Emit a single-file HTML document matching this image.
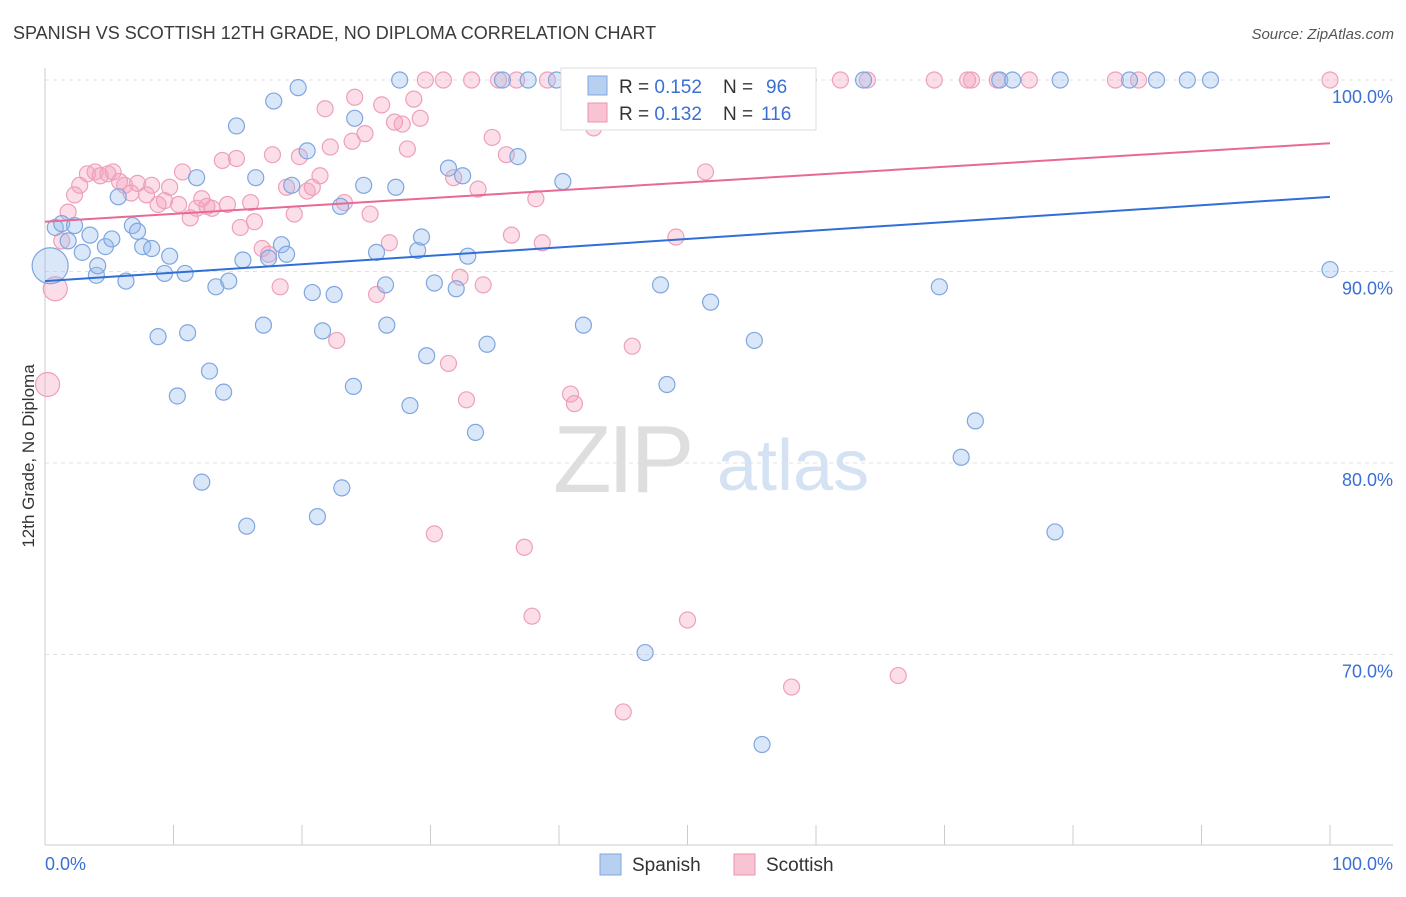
<!DOCTYPE html>
<html><head><meta charset="utf-8"><style>
body{margin:0;background:#fff;font-family:"Liberation Sans",sans-serif;}
svg text{font-family:"Liberation Sans",sans-serif;}
</style></head><body>
<svg id="chart" width="1406" height="892" xmlns="http://www.w3.org/2000/svg">
<text x="13" y="39" font-size="18" fill="#3a3a3a">SPANISH VS SCOTTISH 12TH GRADE, NO DIPLOMA CORRELATION CHART</text>
<text x="1394" y="39" font-size="15" fill="#555" text-anchor="end" font-style="italic">Source: ZipAtlas.com</text>
<g id="grid"></g>
<g>
<text x="553" y="492" font-size="96" fill="#dedede" font-family="Liberation Serif" letter-spacing="-4">ZIP</text>
<text x="717" y="490" font-size="72" fill="#d4e2f3">atlas</text>
</g>
<g id="axes"></g>
<g id="pts"></g>
<g id="trend"></g>
<text transform="translate(34,456) rotate(-90)" font-size="17" fill="#333" text-anchor="middle">12th Grade, No Diploma</text>
<g>
<rect x="561" y="68" width="255" height="62" fill="#fff" stroke="#ddd"/>
<rect x="588" y="76" width="19" height="19" fill="#b8d0f0" stroke="#7fa6e0"/>
<text x="619" y="93" font-size="19" fill="#333">R = <tspan fill="#3b6fd4">0.152</tspan></text>
<text x="723" y="93" font-size="19" fill="#333">N = </text>
<text x="766" y="93" font-size="19" fill="#3b6fd4">96</text>
<rect x="588" y="103" width="19" height="19" fill="#f8c4d4" stroke="#eb94b0"/>
<text x="619" y="120" font-size="19" fill="#333">R = <tspan fill="#3b6fd4">0.132</tspan></text>
<text x="723" y="120" font-size="19" fill="#333">N = </text>
<text x="761" y="120" font-size="19" fill="#3b6fd4">116</text>
</g>
<g>
<rect x="600" y="854" width="21" height="21" fill="#b8d0f0" stroke="#7fa6e0"/>
<text x="632" y="871" font-size="19" fill="#333">Spanish</text>
<rect x="734" y="854" width="21" height="21" fill="#f8c4d4" stroke="#eb94b0"/>
<text x="766" y="871" font-size="19" fill="#333">Scottish</text>
</g>
</svg>
<script>
const spanishX=[0.4,0.8,1.3,1.8,2.3,2.9,3.5,4.0,4.1,4.7,5.2,5.7,6.3,6.8,7.2,7.6,8.3,8.8,9.3,9.7,10.3,10.9,11.1,11.8,12.2,12.8,13.3,13.9,14.3,14.9,15.4,15.7,16.4,17.0,17.4,17.8,18.4,18.8,19.2,19.7,20.4,20.8,21.2,21.6,22.5,23.0,23.1,24.0,24.1,24.8,25.8,26.5,26.6,27.3,27.6,28.4,29.0,29.3,29.7,30.3,31.4,32.0,32.5,32.9,33.5,34.4,35.6,36.8,37.6,39.8,40.3,41.9,46.7,47.9,48.4,51.8,52.2,55.2,55.8,63.7,69.6,71.3,72.4,74.3,75.3,78.6,79.0,84.4,86.5,88.9,90.7,100];
const spanishY=[90.3,92.3,92.5,91.6,92.4,91.0,91.9,89.8,90.3,91.3,91.7,93.9,89.5,92.4,92.1,91.3,91.2,86.6,89.9,90.8,83.5,89.9,86.8,94.9,79.0,84.8,89.2,83.7,89.5,97.6,90.6,76.7,94.9,87.2,90.7,98.9,91.4,90.9,94.5,99.6,96.3,88.9,77.2,86.9,88.8,93.4,78.7,84.0,98.0,94.5,91.0,89.3,87.2,94.4,100,83.0,91.1,91.8,85.6,89.4,95.4,89.1,95.0,90.8,81.6,86.2,100,96.0,100,100,94.7,87.2,70.1,89.3,84.1,88.4,100,86.4,65.3,100,89.2,80.3,82.2,100,100,76.4,100,100,100,100,100,90.1];
const scottishX=[0.2,0.8,1.3,1.8,2.3,2.7,3.3,3.9,4.3,4.9,5.3,5.8,6.2,6.7,7.2,7.9,8.3,8.8,9.3,9.7,10.4,10.7,11.3,11.8,12.2,12.6,13.0,13.8,14.2,14.9,15.2,16.0,16.3,16.9,17.4,17.7,18.3,18.8,19.4,19.8,20.4,20.8,21.4,21.8,22.2,22.7,23.3,23.9,24.1,24.9,25.3,25.8,26.2,26.8,27.2,27.8,28.2,28.7,29.2,29.6,30.3,31.0,31.4,31.8,32.3,32.8,33.2,33.7,34.1,34.8,35.3,35.9,36.3,36.7,37.3,37.9,38.2,38.7,39.1,40.9,41.2,41.8,42.7,45.0,45.7,47.9,49.1,50.0,51.1,51.4,53.2,56.0,58.1,59.4,61.9,64.0,66.4,69.2,71.8,72.1,74.1,76.6,83.3,85.1,100];
const scottishY=[84.1,89.1,91.6,93.1,94.0,94.5,95.1,95.2,95.0,95.1,95.2,94.7,94.5,94.1,94.6,94.0,94.5,93.5,93.7,94.4,93.5,95.2,92.8,93.3,93.8,93.4,93.3,95.8,93.5,95.9,92.3,93.6,92.6,91.2,90.9,96.1,89.2,94.4,93.0,96.0,94.2,94.4,95.0,98.5,96.5,86.4,93.6,96.8,99.1,97.2,93.0,88.8,98.7,91.5,97.8,97.7,96.4,99.0,98.0,100,76.3,100,85.2,94.9,89.7,83.3,100,94.3,89.3,97.0,100,96.1,91.9,100,75.6,72.0,93.8,91.5,100,83.6,83.1,100,97.5,67.0,86.1,100,91.8,71.8,100,95.2,100,100,68.3,100,100,100,68.9,100,100,100,100,100,100,100,100];
const spanishTrend=[89.5,93.9];
const scottishTrend=[92.6,96.7];
const yTicks=[100,90,80,70];
const yTickLabels=["100.0%","90.0%","80.0%","70.0%"];
const xTicks=[0,10,20,30,40,50,60,70,80,90,100];

const NS="http://www.w3.org/2000/svg";
function X(v){return 45+v*12.85;}
function Y(v){return 80+(100-v)*19.15;}
function mk(tag,attrs,parent){const e=document.createElementNS(NS,tag);for(const k in attrs)e.setAttribute(k,attrs[k]);parent.appendChild(e);return e;}
const grid=document.getElementById('grid'),axes=document.getElementById('axes'),pts=document.getElementById('pts'),trend=document.getElementById('trend');
yTicks.forEach((t,i)=>{
 const l=mk('line',{x1:45,x2:1393,y1:Y(t),y2:Y(t),stroke:'#e2e2e2','stroke-dasharray':'4,4'},grid);
 
 
 const tx=mk('text',{x:1393,y:Y(t)+23,'font-size':18,fill:'#3b6fd4','text-anchor':'end'},axes);
 tx.textContent=yTickLabels[i];
 
 
});
let a=mk('line',{x1:45,x2:45,y1:68,y2:845,stroke:'#ccc'},axes);


a=mk('line',{x1:45,x2:1393,y1:845,y2:845,stroke:'#ccc'},axes);


xTicks.forEach(t=>{
 const l=mk('line',{x1:X(t),x2:X(t),y1:825,y2:845,stroke:'#ccc'},axes);
 
 
});
let t1=mk('text',{x:45,y:870,'font-size':18,fill:'#3b6fd4'},axes);t1.textContent='0.0%';


let t2=mk('text',{x:1393,y:870,'font-size':18,fill:'#3b6fd4','text-anchor':'end'},axes);t2.textContent='100.0%';



scottishX.forEach((x,i)=>{
 const r=i<2?12:8;
 const c=mk('circle',{cx:X(x),cy:Y(scottishY[i]),r:r,fill:'rgba(244,160,190,0.35)',stroke:'#eea0ba','stroke-width':1.2},pts);
 
 
});
spanishX.forEach((x,i)=>{
 const r=i==0?18:8;
 const c=mk('circle',{cx:X(x),cy:Y(spanishY[i]),r:r,fill:'rgba(150,185,235,0.35)',stroke:'#7fa6e0','stroke-width':1.2},pts);
 
 
});
let tl=mk('line',{x1:X(0),y1:Y(spanishTrend[0]),x2:X(100),y2:Y(spanishTrend[1]),stroke:'#2f6fd6','stroke-width':2},trend);


tl=mk('line',{x1:X(0),y1:Y(scottishTrend[0]),x2:X(100),y2:Y(scottishTrend[1]),stroke:'#e86a94','stroke-width':2},trend);


</script>
</body></html>
